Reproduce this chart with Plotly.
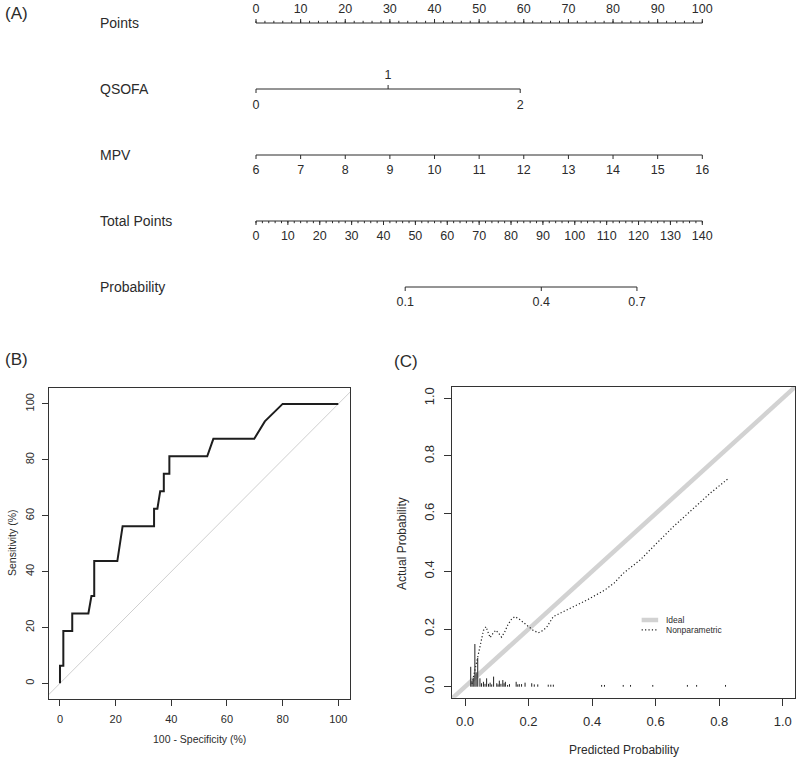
import plotly.graph_objects as go

# The figure fills the whole 800x760 window (the page's default body margin is removed
# by a small post-script), so screen pixels map directly onto the figure.
OFF = 0
W, H = 800, 760
FONT = "Liberation Sans, Arial, Helvetica, sans-serif"
INK = "#2b2b2b"

# ------------------------------------------------------------------ data
# (A) nomogram
points_major = list(range(0, 101, 10))
points_minor = list(range(0, 101, 2))
qsofa_levels = ["0", "1", "2"]
qsofa_points = [0, 29.6, 59.2]
mpv_values = list(range(6, 17))
mpv_min, mpv_max = 6, 16            # MPV 6 -> 0 points, MPV 16 -> 100 points
total_major = list(range(0, 141, 10))
total_minor = list(range(0, 141, 2))
total_max = 140                      # 140 total points span the same width as 100 points
prob_labels = ["0.1", "0.4", "0.7"]
prob_total_points = [46.8, 89.5, 119.5]

# (B) ROC curve (100 - specificity, sensitivity)
roc_fpr = [0, 0, 1.2, 1.2, 4.4, 4.4, 10.2, 11.3, 12.3, 12.3, 20.6, 22.5, 33.8, 33.8,
           35.0, 36.0, 37.3, 37.3, 39.3, 39.3, 52.9, 55.1, 69.8, 73.6, 80.0, 100]
roc_tpr = [0, 6.25, 6.25, 18.75, 18.75, 25, 25, 31.25, 31.25, 43.75, 43.75, 56.25, 56.25, 62.5,
           62.5, 68.75, 68.75, 75, 75, 81.25, 81.25, 87.5, 87.5, 93.75, 100, 100]

# (C) calibration curve
cal_pred = [0.022, 0.030, 0.040, 0.050, 0.058, 0.066, 0.072, 0.079, 0.088, 0.097, 0.106, 0.115,
            0.125, 0.135, 0.147, 0.157, 0.170, 0.184, 0.200, 0.215, 0.231, 0.245, 0.257, 0.268,
            0.278, 0.320, 0.383, 0.440, 0.470, 0.498, 0.551, 0.603, 0.656, 0.719, 0.771, 0.829]
cal_obs = [0.010, 0.050, 0.100, 0.160, 0.195, 0.208, 0.190, 0.170, 0.185, 0.196, 0.185, 0.172,
           0.190, 0.215, 0.235, 0.243, 0.235, 0.222, 0.206, 0.195, 0.187, 0.195, 0.206, 0.228,
           0.243, 0.266, 0.300, 0.335, 0.360, 0.393, 0.439, 0.497, 0.555, 0.618, 0.670, 0.722]
spike_x = [0.018, 0.022, 0.026, 0.031, 0.035, 0.040, 0.047, 0.052, 0.058, 0.063, 0.068, 0.074,
           0.079, 0.084, 0.090, 0.100, 0.104, 0.108, 0.113, 0.119, 0.123, 0.127, 0.134, 0.140,
           0.161, 0.166, 0.171, 0.178, 0.189, 0.210, 0.218, 0.229, 0.262, 0.270, 0.278, 0.430,
           0.439, 0.498, 0.521, 0.591, 0.700, 0.729, 0.820]
spike_h = [0.069, 0.020, 0.030, 0.148, 0.050, 0.100, 0.029, 0.012, 0.017, 0.010, 0.029, 0.010,
           0.014, 0.008, 0.035, 0.012, 0.008, 0.021, 0.010, 0.023, 0.012, 0.017, 0.006, 0.009,
           0.017, 0.008, 0.009, 0.009, 0.014, 0.012, 0.008, 0.008, 0.007, 0.007, 0.007, 0.006,
           0.006, 0.006, 0.006, 0.006, 0.006, 0.006, 0.006]

# ------------------------------------------------------------------ layout helpers
ROW_Y = {"Points": 23, "QSOFA": 89, "MPV": 155, "Total Points": 221, "Probability": 287}
PT0_PX, PT100_PX = 256.0, 702.3     # screen x of 0 and 100 points
PPU = (PT100_PX - PT0_PX) / 100.0
LABEL_X = (100 - PT0_PX) / PPU
MAJ, MIN = 4, 2.2
ABOVE, BELOW = -13, 16
DOT = "1.2px,2.2px"

fig = go.Figure()


def line_trace(x, y, xa="x", ya="y", color=INK, width=1, dash=None):
    fig.add_trace(go.Scatter(x=x, y=y, mode="lines", xaxis=xa, yaxis=ya,
                             line=dict(color=color, width=width, dash=dash),
                             hoverinfo="skip", showlegend=False))


def ticks(xs, y0, length):
    tx, ty = [], []
    for v in xs:
        tx += [v, v, None]
        ty += [y0, y0 + length, None]
    line_trace(tx, ty)


def labels(xs, texts, y, size=12.5):
    fig.add_trace(go.Scatter(x=xs, y=[y] * len(xs), text=texts, mode="text",
                             textposition="middle center", xaxis="x", yaxis="y",
                             textfont=dict(family=FONT, size=size, color=INK),
                             hoverinfo="skip", showlegend=False, cliponaxis=False))


def to_pts_total(tp):
    return tp * 100.0 / total_max


def to_pts_mpv(v):
    return (v - mpv_min) * 100.0 / (mpv_max - mpv_min)


# Points row
y0 = ROW_Y["Points"]
line_trace([0, 100], [y0, y0])
ticks(points_minor, y0, -MIN)
ticks(points_major, y0, -MAJ)
labels(points_major, [str(v) for v in points_major], y0 + ABOVE)

# QSOFA row
y0 = ROW_Y["QSOFA"]
line_trace([qsofa_points[0], qsofa_points[-1]], [y0, y0])
ticks([qsofa_points[1]], y0, -MAJ)
ticks([qsofa_points[0], qsofa_points[2]], y0, MAJ)
labels([qsofa_points[1]], [qsofa_levels[1]], y0 + ABOVE)
labels([qsofa_points[0], qsofa_points[2]], [qsofa_levels[0], qsofa_levels[2]], y0 + BELOW + 1)

# MPV row
y0 = ROW_Y["MPV"]
mpv_x = [to_pts_mpv(v) for v in mpv_values]
line_trace([mpv_x[0], mpv_x[-1]], [y0, y0])
ticks(mpv_x, y0, MAJ)
labels(mpv_x, [str(v) for v in mpv_values], y0 + BELOW)

# Total points row
y0 = ROW_Y["Total Points"]
line_trace([0, 100], [y0, y0])
ticks([to_pts_total(v) for v in total_minor], y0, MIN)
ticks([to_pts_total(v) for v in total_major], y0, MAJ)
labels([to_pts_total(v) for v in total_major], [str(v) for v in total_major], y0 + BELOW)

# Probability row
y0 = ROW_Y["Probability"]
px_ = [to_pts_total(v) for v in prob_total_points]
line_trace([px_[0], px_[-1]], [y0, y0])
ticks(px_, y0, MAJ)
labels(px_, prob_labels, y0 + BELOW)

# row names
names = list(ROW_Y.keys())
fig.add_trace(go.Scatter(x=[LABEL_X] * len(names), y=[ROW_Y[n] + 1 for n in names], text=names,
                         mode="text", textposition="middle right", xaxis="x", yaxis="y",
                         textfont=dict(family=FONT, size=14, color=INK),
                         hoverinfo="skip", showlegend=False))

# ------------------------------------------------------------------ (B) ROC
line_trace([-10, 110], [-10, 110], "x2", "y2", color="#cfcfcf", width=1)
line_trace(roc_fpr, roc_tpr, "x2", "y2", color="#1e1e1e", width=2)

# ------------------------------------------------------------------ (C) calibration
line_trace([-0.1, 1.1], [-0.1, 1.1], "x3", "y3", color="#d2d2d2", width=4.5)
sx, sy = [], []
for xv, hv in zip(spike_x, spike_h):
    sx += [xv, xv, None]
    sy += [0, hv, None]
line_trace(sx, sy, "x3", "y3", color="#222222", width=1)
line_trace(cal_pred, cal_obs, "x3", "y3", color="#222222", width=1.2, dash=DOT)


def pxx(a, b):
    return [(a - OFF) / W, (b - OFF) / W]


def pxy(top, bottom):
    return [1 - (bottom - OFF) / H, 1 - (top - OFF) / H]


axis_common = dict(showline=True, mirror=True, linecolor="#333333", linewidth=1,
                   ticks="outside", tickcolor="#333333", showgrid=False, zeroline=False)

fig.update_layout(
    width=W, height=H, margin=dict(l=0, r=0, t=0, b=0),
    paper_bgcolor="white", plot_bgcolor="white", showlegend=False,
    xaxis=dict(domain=[0, 1], range=[(OFF - PT0_PX) / PPU, (800 - PT0_PX) / PPU],
               visible=False, fixedrange=True),
    yaxis=dict(domain=pxy(OFF, 330), range=[330, OFF], visible=False, fixedrange=True),
    xaxis2=dict(domain=pxx(49, 350), range=[-3.95, 104.2], anchor="y2",
                tickvals=[0, 20, 40, 60, 80, 100], ticklen=6, ticklabelstandoff=4,
                tickfont=dict(family=FONT, color=INK, size=11), **axis_common),
    yaxis2=dict(domain=pxy(387.7, 699), range=[-5.62, 105.8], anchor="x2",
                tickvals=[0, 20, 40, 60, 80, 100], ticklen=6, tickangle=-90, ticklabelstandoff=4,
                tickfont=dict(family=FONT, color=INK, size=11), **axis_common),
    xaxis3=dict(domain=pxx(451.7, 795), range=[-0.0419, 1.0387], anchor="y3",
                tickvals=[0, 0.2, 0.4, 0.6, 0.8, 1.0], tickformat=".1f", ticklen=7,
                ticklabelstandoff=5,
                tickfont=dict(family=FONT, color=INK, size=13), **axis_common),
    yaxis3=dict(domain=pxy(386.7, 697.7), range=[-0.0381, 1.040], anchor="x3",
                tickvals=[0, 0.2, 0.4, 0.6, 0.8, 1.0], tickformat=".1f", ticklen=7,
                tickangle=-90, ticklabelstandoff=5,
                tickfont=dict(family=FONT, color=INK, size=13), **axis_common),
)

# legend of (C), drawn inside the plot
fig.add_shape(type="line", xref="x3", yref="y3", x0=0.556, x1=0.608, y0=0.231, y1=0.231,
              line=dict(color="#d2d2d2", width=4.5))
fig.add_shape(type="line", xref="x3", yref="y3", x0=0.556, x1=0.608, y0=0.197, y1=0.197,
              line=dict(color="#222222", width=1.2, dash=DOT))
for txt, yy in [("Ideal", 0.231), ("Nonparametric", 0.197)]:
    fig.add_annotation(text=txt, xref="x3", yref="y3", x=0.626, y=yy, xanchor="left",
                       yanchor="middle", showarrow=False,
                       font=dict(family=FONT, size=8.5, color=INK))


def ann(text, x, y, size, angle=0, xanchor="center"):
    fig.add_annotation(text=text, xref="paper", yref="paper", x=(x - OFF) / W,
                       y=1 - (y - OFF) / H, xanchor=xanchor, yanchor="middle",
                       showarrow=False, textangle=angle,
                       font=dict(family=FONT, size=size, color=INK))


ann("(A)", 3, 14, 17, xanchor="left")
ann("(B)", 3, 360, 17, xanchor="left")
ann("(C)", 392, 361, 17, xanchor="left")
ann("100 - Specificity (%)", 199.5, 738.5, 10.5)
ann("Sensitivity (%)", 12, 543, 10.5, angle=-90)
ann("Predicted Probability", 623.5, 750, 12)
ann("Actual Probability", 402, 543, 12, angle=-90)

fig.write_html("out.html",
               config={"displayModeBar": False},
               post_script="document.body.style.margin='0';"
                           "document.documentElement.style.overflow='hidden';")
